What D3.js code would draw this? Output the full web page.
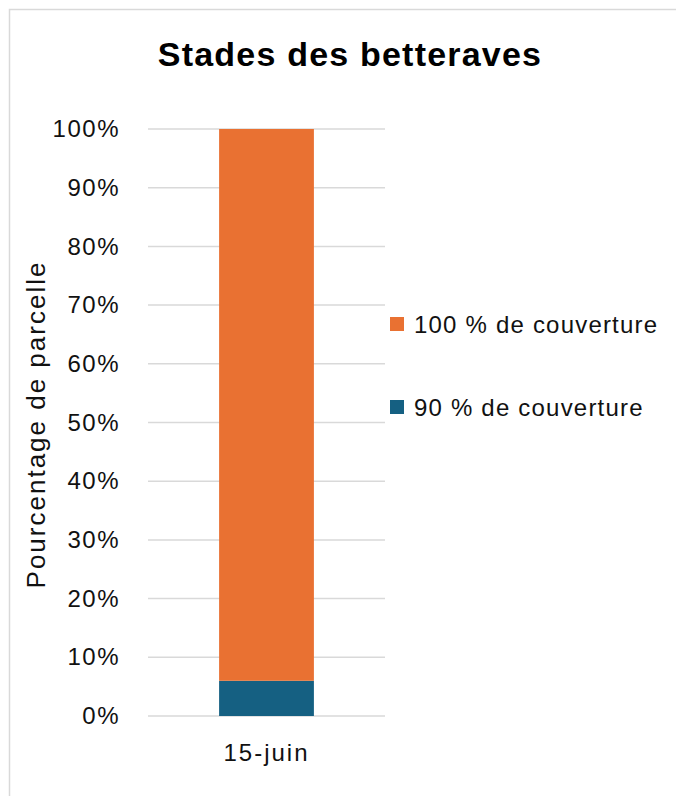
<!DOCTYPE html>
<html>
<head>
<meta charset="utf-8">
<script src="https://cdn.jsdelivr.net/npm/d3@7"></script>
<style>
	body { margin: 0; background: #fff; }
	svg { font-family: "Liberation Sans", Arial, sans-serif; }
</style>
</head>
<body>
<div id="chart"></div>
<script>
const categories = ["15-juin"];
const seriesNames = ["90 % de couverture", "100 % de couverture"];
const series90 = [0.06];
const series100 = [0.94];
const yTicks = [0, 0.1, 0.2, 0.3, 0.4, 0.5, 0.6, 0.7, 0.8, 0.9, 1];
const colors = ["#156082", "#E97132"];

const width = 676;
const height = 796;
const margin = { top: 129, right: 291, bottom: 80, left: 148 };

const data = categories.map((c, i) => ({
	cat: c,
	[seriesNames[0]]: series90[i],
	[seriesNames[1]]: series100[i]
}));

const stack = d3.stack().keys(seriesNames)(data);

const svg = d3
	.select("#chart")
	.append("svg")
	.attr("width", width)
	.attr("height", height);

// chart frame
svg
	.append("rect")
	.attr("x", 9.5)
	.attr("y", 9.5)
	.attr("width", width + 10)
	.attr("height", height + 10)
	.attr("fill", "#fff")
	.attr("stroke", "#d9d9d9")
	.attr("stroke-width", 1.5);

const x = d3
	.scaleBand()
	.domain(categories)
	.range([margin.left, width - margin.right])
	.paddingInner(0.6)
	.paddingOuter(0.3);

const y = d3
	.scaleLinear()
	.domain([0, 1])
	.range([height - margin.bottom, margin.top]);

// gridlines
svg
	.append("g")
	.selectAll("line")
	.data(yTicks)
	.join("line")
	.attr("x1", margin.left)
	.attr("x2", width - margin.right)
	.attr("y1", (d) => y(d))
	.attr("y2", (d) => y(d))
	.attr("stroke", "#d9d9d9")
	.attr("stroke-width", 1.5);

// y axis labels
const yAxis = (g) =>
	g
		.attr("transform", `translate(${margin.left - 25}, 0)`)
		.call(d3.axisLeft(y).tickValues(yTicks).tickFormat(d3.format(".0%")).tickSize(0))
		.call((g) => g.select(".domain").remove())
		.call((g) =>
			g
				.selectAll("text")
				.attr("font-size", 24)
				.attr("letter-spacing", 1.5)
				.attr("fill", "#111")
				.attr("font-family", "Liberation Sans, Arial, sans-serif")
		);

svg.append("g").call(yAxis);

// bars
svg
	.append("g")
	.selectAll("g")
	.data(stack)
	.join("g")
	.attr("fill", (d, i) => colors[i])
	.selectAll("rect")
	.data((d) => d)
	.join("rect")
	.attr("x", (d) => x(d.data.cat))
	.attr("width", x.bandwidth())
	.attr("y", (d) => y(d[1]))
	.attr("height", (d) => y(d[0]) - y(d[1]));

// x axis labels
const xAxis = (g) =>
	g
		.attr("transform", `translate(0, ${height - margin.bottom + 25})`)
		.call(d3.axisBottom(x).tickSize(0))
		.call((g) => g.select(".domain").remove())
		.call((g) =>
			g
				.selectAll("text")
				.attr("font-size", 24)
				.attr("letter-spacing", 2)
				.attr("fill", "#111")
				.attr("font-family", "Liberation Sans, Arial, sans-serif")
		);

svg.append("g").call(xAxis);

// y title
svg
	.append("text")
	.attr("transform", `translate(45, ${(y(0) + y(1)) / 2 + 2}) rotate(-90)`)
	.attr("text-anchor", "middle")
	.attr("font-size", 26)
	.attr("letter-spacing", 2)
	.attr("fill", "#111")
	.text("Pourcentage de parcelle");

// title
svg
	.append("text")
	.attr("x", 350)
	.attr("y", 66)
	.attr("text-anchor", "middle")
	.attr("font-size", 34)
	.attr("letter-spacing", 1.2)
	.attr("font-weight", "bold")
	.attr("fill", "#000")
	.text("Stades des betteraves");

// legend (100 % first)
const legendItems = [1, 0];
const legend = svg
	.append("g")
	.selectAll("g")
	.data(legendItems)
	.join("g")
	.attr("transform", (d, i) => `translate(390, ${317 + i * 83})`);

legend
	.append("rect")
	.attr("width", 14)
	.attr("height", 14)
	.attr("fill", (d) => colors[d]);

legend
	.append("text")
	.attr("x", 24)
	.attr("y", 16)
	.attr("font-size", 24)
	.attr("letter-spacing", 1.2)
	.attr("fill", "#111")
	.text((d) => seriesNames[d]);
</script>
</body>
</html>
